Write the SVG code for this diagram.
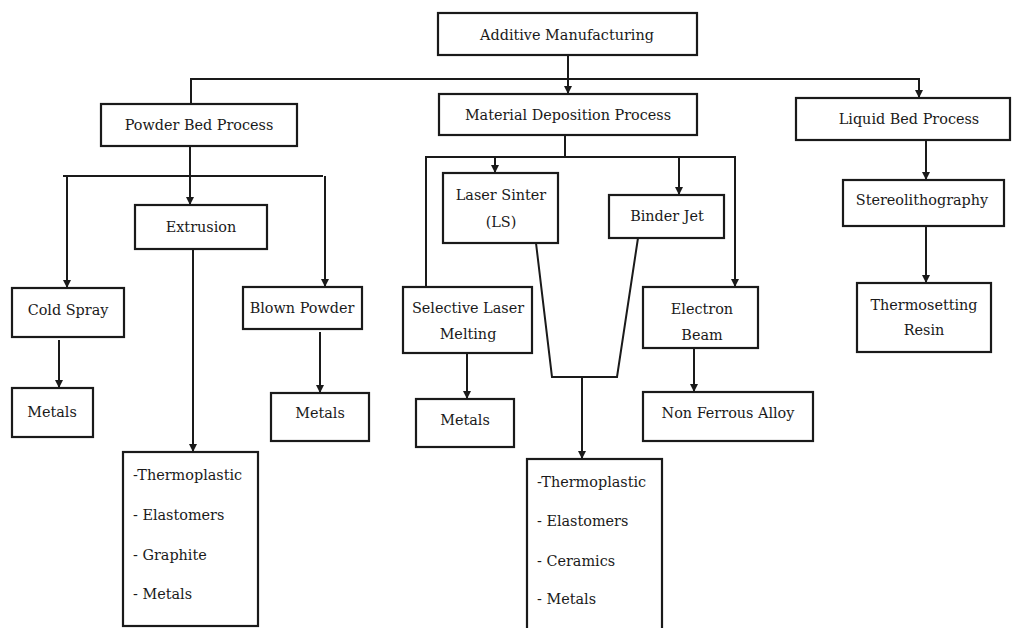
<svg xmlns="http://www.w3.org/2000/svg" width="1014" height="628" viewBox="0 0 1014 628">
<style>
.box{fill:#fff;stroke:#1a1a1a;stroke-width:2.2}
.t{font-family:'DejaVu Serif',serif;font-size:14.4px;fill:#1a1a1a;text-anchor:middle}
.l{font-family:'DejaVu Serif',serif;font-size:14.4px;fill:#1a1a1a}
.c{fill:none;stroke:#1a1a1a;stroke-width:2}
</style>
<defs>
<marker id="ah" viewBox="0 0 10 10" refX="10" refY="5" markerWidth="4.2" markerHeight="4.2" orient="auto" markerUnits="strokeWidth">
<path d="M0,0 L10,5 L0,10 z" fill="#1a1a1a"/>
</marker>
</defs>
<rect width="1014" height="628" fill="#fff"/>
<g id="connectors">
<path class="c" d="M568,55 V94" marker-end="url(#ah)"/>
<path class="c" d="M191,104 V79 H919 V98" marker-end="url(#ah)"/>
<path class="c" d="M190,146 V205" marker-end="url(#ah)"/>
<path class="c" d="M63,176 H323"/>
<path class="c" d="M67,176 V288" marker-end="url(#ah)"/>
<path class="c" d="M325,176 V287" marker-end="url(#ah)"/>
<path class="c" d="M59,340 V388" marker-end="url(#ah)"/>
<path class="c" d="M320,332 V393" marker-end="url(#ah)"/>
<path class="c" d="M193,249 V452" marker-end="url(#ah)"/>
<path class="c" d="M565,135 V157"/>
<path class="c" d="M426,287 V157 H735 V287" marker-end="url(#ah)"/>
<path class="c" d="M495,157 V173" marker-end="url(#ah)"/>
<path class="c" d="M679,157 V195" marker-end="url(#ah)"/>
<path class="c" d="M536,243 L552,377 H617 L638,238"/>
<path class="c" d="M582,377 V459" marker-end="url(#ah)"/>
<path class="c" d="M467,353 V399" marker-end="url(#ah)"/>
<path class="c" d="M694,348 V392" marker-end="url(#ah)"/>
<path class="c" d="M926,140 V180" marker-end="url(#ah)"/>
<path class="c" d="M926,226 V283" marker-end="url(#ah)"/>
</g>
<g id="additive-manufacturing"><rect class="box" x="438" y="13" width="259" height="42"/><text class="t" x="567" y="40">Additive Manufacturing</text></g>
<g id="powder-bed"><rect class="box" x="101" y="104" width="196" height="42"/><text class="t" x="199" y="130">Powder Bed Process</text></g>
<g id="material-deposition"><rect class="box" x="439" y="94" width="258" height="41"/><text class="t" x="568" y="120">Material Deposition Process</text></g>
<g id="liquid-bed"><rect class="box" x="796" y="98" width="214" height="42"/><text class="t" x="909" y="124">Liquid Bed Process</text></g>
<g id="extrusion"><rect class="box" x="135" y="205" width="132" height="44"/><text class="t" x="201" y="232">Extrusion</text></g>
<g id="cold-spray"><rect class="box" x="12" y="288" width="112" height="49"/><text class="t" x="68" y="315">Cold Spray</text></g>
<g id="metals-cold"><rect class="box" x="12" y="388" width="81" height="49"/><text class="t" x="52" y="417">Metals</text></g>
<g id="blown-powder"><rect class="box" x="243" y="287" width="119" height="42"/><text class="t" x="302" y="313">Blown Powder</text></g>
<g id="metals-blown"><rect class="box" x="271" y="393" width="98" height="48"/><text class="t" x="320" y="418">Metals</text></g>
<g id="extrusion-materials"><rect class="box" x="123" y="452" width="135" height="174"/>
<text class="l" x="133" y="480">-Thermoplastic</text><text class="l" x="133" y="520">- Elastomers</text><text class="l" x="133" y="560">- Graphite</text><text class="l" x="133" y="599">- Metals</text></g>
<g id="laser-sinter"><rect class="box" x="443" y="173" width="115" height="70"/><text class="t" x="501" y="200">Laser Sinter</text><text class="t" x="501" y="227">(LS)</text></g>
<g id="binder-jet"><rect class="box" x="609" y="195" width="115" height="43"/><text class="t" x="667" y="221">Binder Jet</text></g>
<g id="slm"><rect class="box" x="403" y="287" width="129" height="66"/><text class="t" x="468" y="313">Selective Laser</text><text class="t" x="468" y="339">Melting</text></g>
<g id="metals-slm"><rect class="box" x="416" y="399" width="98" height="48"/><text class="t" x="465" y="425">Metals</text></g>
<g id="electron-beam"><rect class="box" x="643" y="287" width="115" height="61"/><text class="t" x="702" y="314">Electron</text><text class="t" x="702" y="340">Beam</text></g>
<g id="non-ferrous"><rect class="box" x="643" y="392" width="170" height="49"/><text class="t" x="728" y="418">Non Ferrous Alloy</text></g>
<g id="ls-bj-materials"><rect class="box" x="527" y="459" width="135" height="180"/>
<text class="l" x="537" y="487">-Thermoplastic</text><text class="l" x="537" y="526">- Elastomers</text><text class="l" x="537" y="566">- Ceramics</text><text class="l" x="537" y="604">- Metals</text></g>
<g id="stereolithography"><rect class="box" x="843" y="180" width="161" height="46"/><text class="t" x="922" y="205">Stereolithography</text></g>
<g id="thermosetting"><rect class="box" x="857" y="283" width="134" height="69"/><text class="t" x="924" y="310">Thermosetting</text><text class="t" x="924" y="335">Resin</text></g>
</svg>
